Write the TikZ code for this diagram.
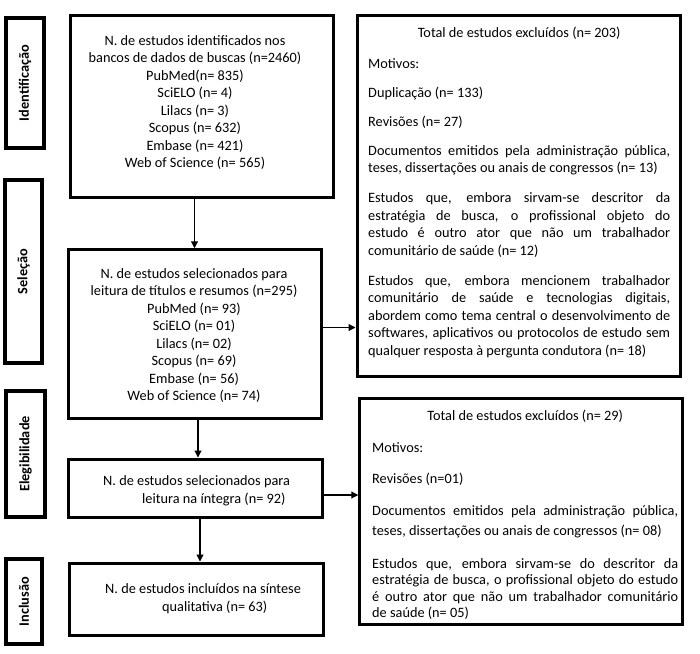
\documentclass[tikz,border=0pt]{standalone}
\usepackage{fontspec}
\setmainfont{Carlito}
\usetikzlibrary{arrows.meta,calc}
\begin{document}
\begin{tikzpicture}[x=1pt,y=-1pt,
  box/.style={draw, line width=3pt, inner sep=0pt},
  stagebox/.style={draw, line width=3.5pt, inner sep=0pt, font=\fontsize{14.3}{16}\selectfont\bfseries},
  txt/.style={inner sep=0pt, font=\fontsize{14.3}{17.5}\selectfont},
  arr/.style={line width=1.1pt, -{Triangle[length=7pt,width=7pt]}}]
\useasboundingbox (0,0) rectangle (700,653);
% stage boxes
\node[stagebox, minimum width=38pt, minimum height=130pt] (s1) at (25,83) {\rotatebox{90}{Identificação}};
\node[stagebox, minimum width=37pt, minimum height=183pt] (s2) at (23.5,271.5) {\rotatebox{90}{Seleção}};
\node[stagebox, minimum width=39pt, minimum height=126pt] (s3) at (25.5,454) {\rotatebox{90}{Elegibilidade}};
\node[stagebox, minimum width=36pt, minimum height=85pt] (s4) at (24,601.5) {\rotatebox{90}{Inclusão}};
% main boxes
\node[box, minimum width=263pt, minimum height=182pt] (b1) at (201.5,106) {};
\node[box, minimum width=253pt, minimum height=168.5pt] (b2) at (194.5,334) {};
\node[box, minimum width=254pt, minimum height=58pt] (b3) at (195,488) {};
\node[box, minimum width=254pt, minimum height=72pt] (b4) at (196,599) {};
\node[box, minimum width=323pt, minimum height=361pt] (r1) at (518.5,195.5) {};
\node[box, minimum width=322.5pt, minimum height=226pt] (r2) at (521,511) {};
% texts (base anchor = last line for align=center/left)
\node[txt, anchor=base, align=center] (t1) at (195,167.5) {N. de estudos identificados nos\\bancos de dados de buscas (n=2460)\\PubMed(n= 835)\\SciELO (n= 4)\\Lilacs (n= 3)\\Scopus (n= 632)\\Embase (n= 421)\\Web of Science (n= 565)};
\node[txt, anchor=base, align=center] (t2) at (194,400.5) {N. de estudos selecionados para\\leitura de títulos e resumos (n=295)\\PubMed (n= 93)\\SciELO (n= 01)\\Lilacs (n= 02)\\Scopus (n= 69)\\Embase (n= 56)\\Web of Science (n= 74)};
\node[txt, anchor=base west, align=left] (t3) at (103,503) {N. de estudos selecionados para\\\hspace*{39pt}leitura na íntegra (n= 92)};
\node[txt, anchor=base west, align=left] (t4) at (105,611) {N. de estudos incluídos na síntese\\\hspace*{57pt}qualitativa (n= 63)};
\node[txt, anchor=base west, text width=302pt, align=justify] (t5) at (368,37) {\parindent=0pt
\hbox to \hsize{\hss Total de estudos excluídos (n= 203)\hss}\par\vspace{13.5pt}
Motivos:\par\vspace{11.5pt}
Duplicação (n= 133)\par\vspace{11.5pt}
Revisões (n= 27)\par\vspace{11.5pt}
Documentos emitidos pela administração pública,\linebreak teses, dissertações ou anais de congressos (n= 13)\par\vspace{12.5pt}
Estudos que, embora sirvam-se descritor da\linebreak estratégia de busca, o profissional objeto do\linebreak estudo é outro ator que não um trabalhador\linebreak comunitário de saúde (n= 12)\par\vspace{12.5pt}
Estudos que, embora mencionem trabalhador\linebreak comunitário de saúde e tecnologias digitais,\linebreak abordem como tema central o desenvolvimento de\linebreak softwares, aplicativos ou protocolos de estudo sem\linebreak qualquer resposta à pergunta condutora (n= 18)\par};
\node[txt, anchor=base west, text width=306pt, align=justify] (t6) at (372,420) {\parindent=0pt
\hbox to \hsize{\hss Total de estudos excluídos (n= 29)\hss}\par\vspace{14.5pt}
Motivos:\par\vspace{13.5pt}
Revisões (n=01)\par\vspace{12pt}
{\baselineskip=20pt Documentos emitidos pela administração pública,\linebreak teses, dissertações ou anais de congressos (n= 08)\par}\vspace{16.5pt}
{\baselineskip=16.5pt Estudos que, embora sirvam-se do descritor da\linebreak estratégia de busca, o profissional objeto do estudo\linebreak é outro ator que não um trabalhador comunitário\linebreak de saúde (n= 05)\par}};
% connectors
\draw[arr] (b1.south -| b2.north) -- (b2.north);
\draw[arr] ($(b2.south -| b3.north)+(3,0)$) -- ($(b3.north)+(3,0)$);
\draw[arr] ($(b3.south -| b4.north)+(4,0)$) -- ($(b4.north)+(4,0)$);
\coordinate (h1) at ($(b2.east)+(0,-6.5)$);
\coordinate (h2) at ($(b3.east)+(0,7)$);
\draw[arr] (h1) -- (h1 -| r1.west);
\draw[arr] (h2) -- (h2 -| r2.west);
\end{tikzpicture}
\end{document}
